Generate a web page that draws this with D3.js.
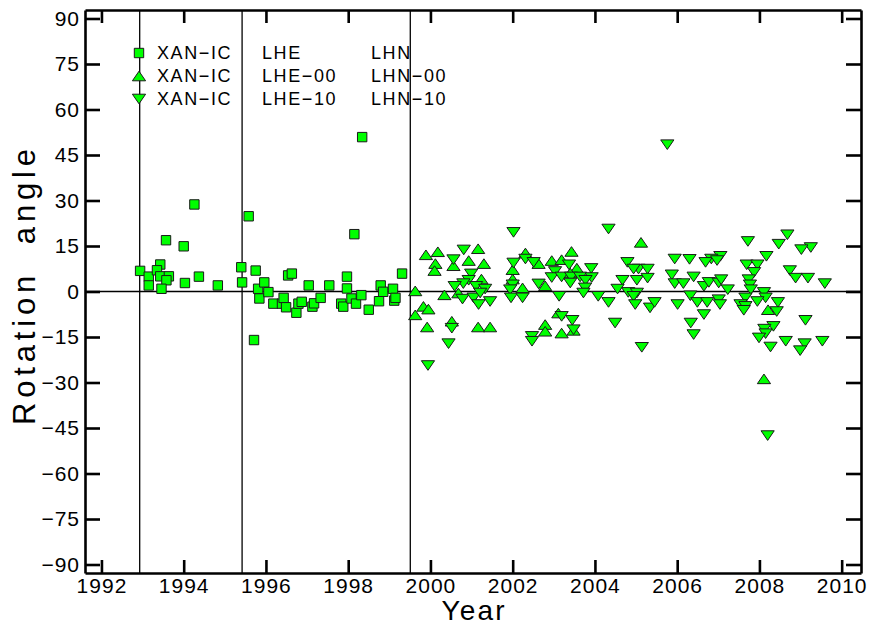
<!DOCTYPE html>
<html>
<head>
<meta charset="utf-8">
<script src="https://cdn.jsdelivr.net/npm/d3@7"></script>
<style>
body{margin:0;background:#ffffff;}
</style>
</head>
<body>
<svg id="svg" width="870" height="626"></svg>
<script>
// XAN-IC LHE LHN (squares)
const lheLhn=[[1992.94,6.8],[1993.15,4.9],[1993.15,2.0],[1993.43,8.9],[1993.35,7.0],[1993.43,5.0],[1993.64,5.0],[1993.58,3.7],[1993.46,0.9],[1993.57,16.9],
[1994.0,14.9],[1994.03,2.8],[1994.26,28.7],[1994.37,4.9],[1994.83,2.0],[1995.40,8.0],[1995.42,3.0],[1995.58,24.8],[1995.75,6.9],[1995.71,-16.0],
[1995.81,0.9],[1995.84,-2.3],[1995.96,3.0],[1996.06,-0.2],[1996.18,-4.0],[1996.39,-4.0],[1996.43,-2.1],[1996.49,-5.2],[1996.54,5.3],[1996.63,5.9],
[1996.74,-7.0],[1996.79,-4.0],[1996.87,-3.4],[1997.04,2.0],[1997.13,-5.0],[1997.17,-3.9],[1997.33,-2.1],[1997.54,2.0],[1997.83,-4.0],[1997.88,-5.0],
[1997.97,4.9],[1997.97,1.0],[1998.08,-2.3],[1998.15,18.9],[1998.19,-4.0],[1998.32,-1.2],[1998.34,50.9],[1998.5,-6.0],[1998.75,-3.2],[1998.79,2.0],
[1998.85,-0.1],[1999.09,0.9],[1999.12,-3.0],[1999.15,-2.1],[1999.31,5.9]];

// XAN-IC LHE-00 LHN-00 (up triangles)
const lhe00=[[1999.63,0.2],[1999.89,12.1],[2000.18,13.1],[2000.12,9.2],[2000.10,6.9],[2000.56,8.5],[2000.93,10.2],[2001.30,9.2],[2001.24,4.1],[2000.34,-1.1],
[2000.68,-0.5],[1999.83,-4.9],[1999.95,-5.8],[1999.63,-7.7],[1999.92,-11.7],[2000.52,-9.8],[2001.16,-11.7],[2001.45,-11.7],[2001.16,14.1],[2002.0,7.2],
[2002.0,4.1],[2002.24,1.2],[2002.31,12.7],[2002.63,9.2],[2002.79,1.9],[2002.79,-10.9],[2002.79,-13.1],[2003.43,13.2],[2002.95,10.2],[2003.19,10.5],
[2003.56,7.7],[2003.40,6.1],[2003.11,-7.1],[2003.19,-13.7],[2003.48,-12.8],[2005.12,16.2],[2008.21,-6.0],[2008.11,-28.8]];

// XAN-IC LHE-10 LHN-10 (down triangles)
const lhe10=[[2002.02,19.5],[2000.81,13.7],[2000.56,10.5],[2000.99,5.8],[2000.93,3.7],[2000.80,2.6],[2000.59,1.7],[2001.11,1.7],[2001.33,0.8],[2000.78,-2.5],
[2001.05,-2.1],[2001.21,-0.5],[2001.17,-4.3],[2001.45,-3.3],[2000.52,-12.1],[2000.44,-17.2],[2002.02,9.4],[2002.0,2.2],[2001.94,0.6],[2001.96,-2.1],
[2002.24,-2.1],[2002.31,10.7],[2002.51,9.6],[2002.63,2.5],[2002.47,-14.8],[2002.47,-16.4],[1999.94,-24.4],
[2004.33,20.6],[2003.37,8.8],[2003.91,7.6],[2003.03,6.6],[2002.95,4.6],[2003.19,4.8],[2003.42,4.8],[2003.64,4.8],[2003.92,4.6],
[2003.77,3.7],[2003.40,2.8],[2003.76,1.2],[2003.72,-0.5],[2003.13,-1.6],[2004.08,-1.6],[2004.33,-3.6],[2004.79,9.6],[2005.06,7.4],[2005.28,7.4],
[2004.94,7.4],[2004.67,3.7],[2005.02,3.7],[2005.28,4.4],[2004.55,0.8],[2004.81,-0.3],[2005.02,-0.5],[2004.94,-1.6],[2004.98,-4.3],[2005.34,-5.4],
[2005.45,-3.6],[2004.49,-10.4],[2005.14,-18.4],[2005.94,10.7],[2006.30,10.6],[2005.87,5.5],[2005.94,2.6],[2006.15,2.6],[2006.01,-4.3],[2006.32,-1.4],
[2003.19,-8.2],[2003.45,-9.5],[2003.48,-12.6],[2006.33,-10.4],[2006.40,-14.2],[2005.76,48.4],
[2008.68,18.7],[2007.72,16.5],[2008.47,15.6],[2009.25,14.5],[2009.02,13.8],[2008.17,11.6],[2007.05,11.6],[2006.83,10.7],[2006.69,9.6],[2006.97,10.2],
[2007.69,8.8],[2007.95,8.8],[2007.87,6.3],[2008.74,6.9],[2008.88,4.4],[2009.18,4.4],[2009.59,2.6],[2006.40,4.8],[2006.65,1.7],[2006.77,3.0],
[2007.01,2.8],[2007.07,3.9],[2007.23,0.6],[2007.74,3.9],[2007.77,2.2],[2007.79,0.6],[2007.66,-2.1],[2008.11,-0.3],[2008.15,-2.1],[2006.49,-3.6],
[2006.73,-3.6],[2007.01,-2.7],[2007.04,-4.3],[2007.54,-4.3],[2007.66,-4.9],[2007.62,-6.2],[2007.95,-3.3],[2008.45,-3.6],[2008.42,-6.6],[2006.65,-7.6],
[2009.12,-9.5],[2008.34,-11.5],[2008.12,-12.4],[2008.15,-13.9],[2007.99,-15.3],[2008.64,-16.4],[2008.27,-18.3],[2009.10,-17.2],[2008.99,-19.5],[2009.53,-16.4],
[2008.2,-47.5]];

// station/epoch change lines
const epochs=[1992.93,1995.42,1999.51];
const yearTicks=[1992,1994,1996,1998,2000,2002,2004,2006,2008,2010];
const angleTicks=[-90,-75,-60,-45,-30,-15,0,15,30,45,60,75,90];
const legendNames=["XAN\u2212IC","XAN\u2212IC","XAN\u2212IC"];
const legendComp1=["LHE","LHE\u221200","LHE\u221210"];
const legendComp2=["LHN","LHN\u221200","LHN\u221210"];
const legendSymbols=["square","up","down"];

const plotLeft=85, plotRight=861, plotTop=10, plotBottom=573;
const font="'Liberation Sans', Arial, sans-serif";
const green="#00ff00";

const x=d3.scaleLinear().domain([1991.6,2010.47]).range([plotLeft,plotRight]);
const y=d3.scaleLinear().domain([-92.8,92.8]).range([plotBottom,plotTop]);

const svg=d3.select("#svg");

const symbolPath=function(kind)
{
    if(kind=="square") return "M-4.7,-4.7L4.7,-4.7L4.7,4.7L-4.7,4.7Z";
    if(kind=="up") return "M-6.6,4.8L6.6,4.8L0,-4.8Z";
    return "M-6.6,-4.8L6.6,-4.8L0,4.8Z";
}

// reference lines
svg.append("line").attr("x1",plotLeft).attr("x2",plotRight).attr("y1",y(0)).attr("y2",y(0)).attr("stroke","#000").attr("stroke-width",1.3);
for (let i = 0; i < epochs.length; i++) {
    svg.append("line").attr("x1",x(epochs[i])).attr("x2",x(epochs[i])).attr("y1",plotTop).attr("y2",plotBottom).attr("stroke","#000").attr("stroke-width",1.3);
}

// axes
const styleAxis=function(g)
{
    g.selectAll("path").attr("stroke","#000").attr("stroke-width",2.6);
    g.selectAll("line").attr("stroke","#000").attr("stroke-width",2.6);
    g.selectAll("text").attr("fill","#000").style("font-family",font).style("font-size","21px").style("letter-spacing","1px");
}
svg.append("g").attr("transform","translate("+plotLeft+",0)")
    .call(d3.axisLeft(y).tickValues(angleTicks).tickSize(-15).tickSizeOuter(0).tickPadding(5).tickFormat(d3.format("d")))
    .call(styleAxis);
svg.append("g").attr("transform","translate("+plotRight+",0)")
    .call(d3.axisRight(y).tickValues(angleTicks).tickSize(-15).tickSizeOuter(0).tickFormat(""))
    .call(styleAxis);
svg.append("g").attr("transform","translate(0,"+plotBottom+")")
    .call(d3.axisBottom(x).tickValues(yearTicks).tickSize(-13).tickSizeOuter(0).tickPadding(5).tickFormat(d3.format("d")))
    .call(styleAxis);
svg.append("g").attr("transform","translate(0,"+plotTop+")")
    .call(d3.axisTop(x).tickValues(yearTicks).tickSize(-13).tickSizeOuter(0).tickFormat(""))
    .call(styleAxis);

// axis titles
svg.append("text").attr("x",473).attr("y",620).attr("text-anchor","middle")
    .style("font-family",font).style("font-size","28px").attr("textLength",63).attr("lengthAdjust","spacing").text("Year");
svg.append("text").attr("transform","translate(35,287) rotate(-90)").attr("text-anchor","middle")
    .style("font-family",font).style("font-size","31px").attr("textLength",276).attr("lengthAdjust","spacing")
    .style("white-space","pre").text("Rotation  angle");

// points
const drawSeries=function(data,kind)
{
    svg.append("g").selectAll("path").data(data).enter().append("path")
        .attr("d",symbolPath(kind))
        .attr("transform",d=>"translate("+x(d[0])+","+y(d[1])+")")
        .attr("fill",green).attr("stroke","#1a1a1a").attr("stroke-width",1);
}
drawSeries(lheLhn,"square");
drawSeries(lhe00,"up");
drawSeries(lhe10,"down");

// legend
for (let i = 0; i < legendNames.length; i++) {
    let cy=53+i*23;
    svg.append("path").attr("d",symbolPath(legendSymbols[i])).attr("transform","translate(139,"+cy+")")
        .attr("fill",green).attr("stroke","#1a1a1a").attr("stroke-width",1);
    svg.append("text").attr("x",157).attr("y",cy+6).style("font-family",font).style("font-size","18px").style("letter-spacing","1.6px").text(legendNames[i]);
    svg.append("text").attr("x",262).attr("y",cy+6).style("font-family",font).style("font-size","18px").style("letter-spacing","1.6px").text(legendComp1[i]);
    svg.append("text").attr("x",371).attr("y",cy+6).style("font-family",font).style("font-size","18px").style("letter-spacing","1.6px").text(legendComp2[i]);
}
</script>
</body>
</html>
